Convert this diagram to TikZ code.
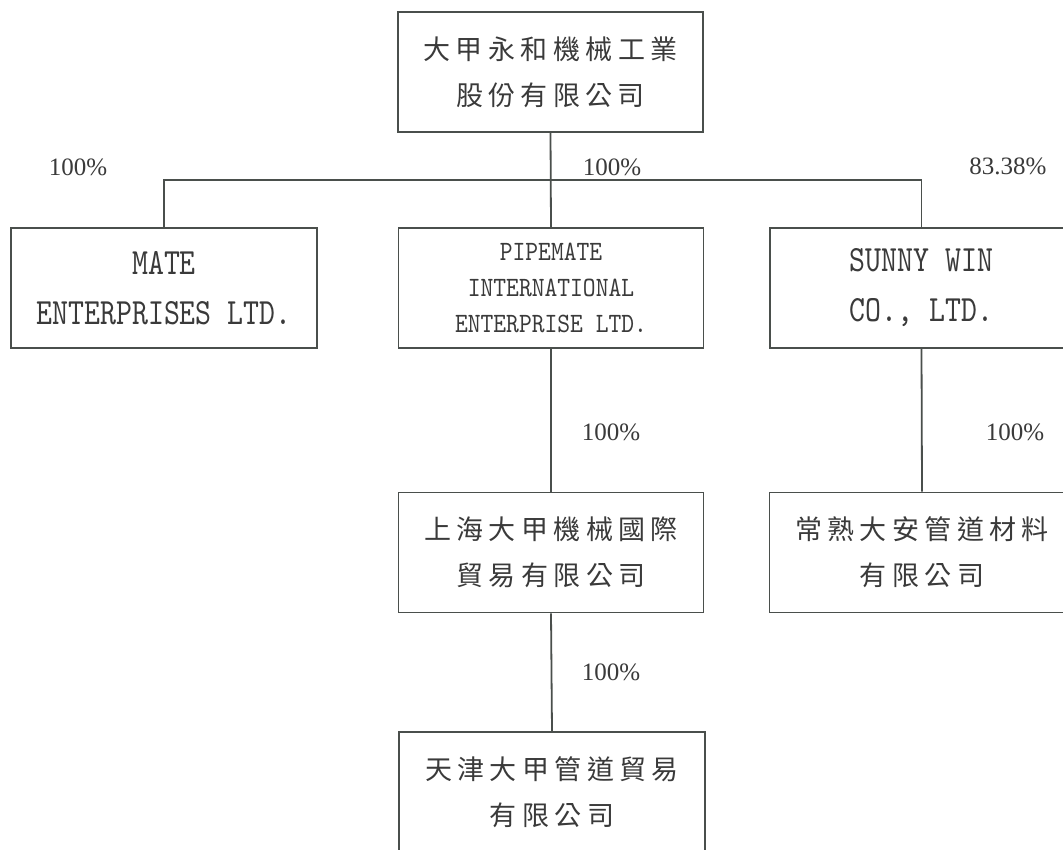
\documentclass[tikz,border=0pt]{standalone}
\usepackage{fontspec}
\setmainfont{Liberation Serif}
\newfontfamily\cjk[LetterSpace=20]{Noto Sans CJK TC}
\newfontfamily\condA[Extension=.otf, FakeStretch=0.82]{lmmono10-regular}
\newfontfamily\condB[Extension=.otf, FakeStretch=0.87]{lmmono10-regular}
\definecolor{ln}{HTML}{4A4F4C}
\definecolor{tx}{HTML}{3A3A3A}
\begin{document}
\begin{tikzpicture}[x=1pt,y=-1pt,
  box/.style={draw=ln, line width=1.8pt, minimum width=305pt, minimum height=120pt, inner sep=0pt, align=center, text=tx},
  zh/.style={font=\cjk\fontsize{27}{46}\selectfont},
  enbig/.style={font=\condA\fontsize{37}{50}\selectfont},
  ensmall/.style={font=\condB\fontsize{28}{36}\selectfont},
  pct/.style={font=\fontsize{25}{30}\selectfont, text=tx, inner sep=0pt},
  conn/.style={draw=ln, line width=1.8pt}]
\useasboundingbox (0,0) rectangle (1063,849);
\fill[white] (0,0) rectangle (1063,849);
\clip (0,0) rectangle (1063,849);
\node[box, zh] (top) at (550.5,72) {大甲永和機械工業\\股份有限公司};
\node[box, enbig, minimum width=306pt] (mate) at (164,288) {MATE\\ENTERPRISES LTD.};
\node[box, ensmall] (pipe) at (551,288) {PIPEMATE\\INTERNATIONAL\\ENTERPRISE LTD.};
\node[box, enbig, minimum width=303pt] (sunny) at (921.5,288) {SUNNY WIN\\CO., LTD.};
\node[box, zh] (sh) at (551,552.5) {上海大甲機械國際\\貿易有限公司};
\node[box, zh] (cs) at (922,552.5) {常熟大安管道材料\\有限公司};
\node[box, zh, minimum width=306pt] (tj) at (552,792) {天津大甲管道貿易\\有限公司};
\coordinate (bus) at (551,180);
\draw[conn] (top.south) -- (pipe.north);
\draw[conn] (mate.north) |- (bus) -| (sunny.north);
\draw[conn] (pipe.south) -- (sh.north);
\draw[conn] (sunny.south) -- (cs.north);
\draw[conn] (sh.south) -- (tj.north);
\node[pct] (p1) at (78,167) {100\%};
\node[pct] (p2) at (612,167) {100\%};
\node[pct] (p3) at (1008,166) {83.38\%};
\node[pct] (p4) at (611,432) {100\%};
\node[pct] (p5) at (1015,432) {100\%};
\node[pct] (p6) at (611,672) {100\%};
\end{tikzpicture}
\end{document}
